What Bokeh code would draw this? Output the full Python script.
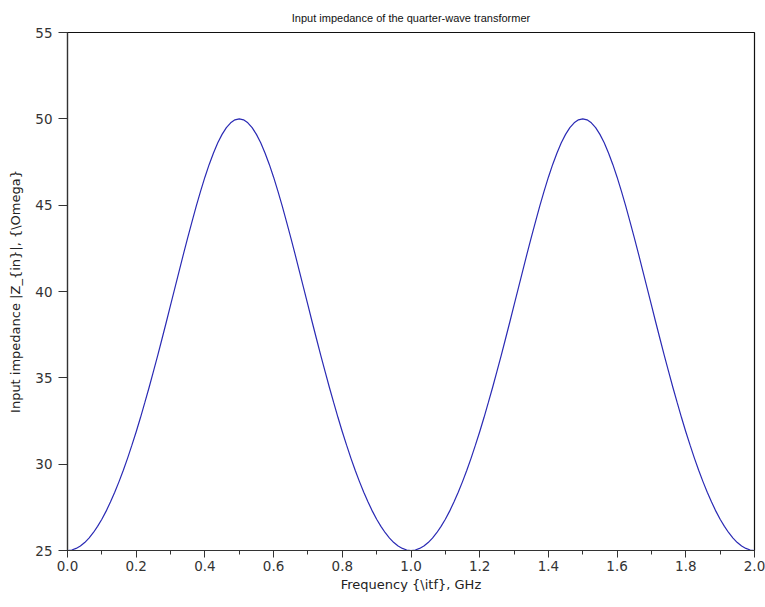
from bokeh.plotting import figure
from bokeh.embed import file_html
from bokeh.resources import INLINE
from bokeh.models import Range1d, FixedTicker

freq_ghz = [
    0.0, 0.0125, 0.025, 0.0375, 0.05, 0.0625, 0.075, 0.0875, 0.1, 0.1125,
    0.125, 0.1375, 0.15, 0.1625, 0.175, 0.1875, 0.2, 0.2125, 0.225, 0.2375,
    0.25, 0.2625, 0.275, 0.2875, 0.3, 0.3125, 0.325, 0.3375, 0.35, 0.3625,
    0.375, 0.3875, 0.4, 0.4125, 0.425, 0.4375, 0.45, 0.4625, 0.475, 0.4875,
    0.5, 0.5125, 0.525, 0.5375, 0.55, 0.5625, 0.575, 0.5875, 0.6, 0.6125,
    0.625, 0.6375, 0.65, 0.6625, 0.675, 0.6875, 0.7, 0.7125, 0.725, 0.7375,
    0.75, 0.7625, 0.775, 0.7875, 0.8, 0.8125, 0.825, 0.8375, 0.85, 0.8625,
    0.875, 0.8875, 0.9, 0.9125, 0.925, 0.9375, 0.95, 0.9625, 0.975, 0.9875,
    1.0, 1.0125, 1.025, 1.0375, 1.05, 1.0625, 1.075, 1.0875, 1.1, 1.1125,
    1.125, 1.1375, 1.15, 1.1625, 1.175, 1.1875, 1.2, 1.2125, 1.225, 1.2375,
    1.25, 1.2625, 1.275, 1.2875, 1.3, 1.3125, 1.325, 1.3375, 1.35, 1.3625,
    1.375, 1.3875, 1.4, 1.4125, 1.425, 1.4375, 1.45, 1.4625, 1.475, 1.4875,
    1.5, 1.5125, 1.525, 1.5375, 1.55, 1.5625, 1.575, 1.5875, 1.6, 1.6125,
    1.625, 1.6375, 1.65, 1.6625, 1.675, 1.6875, 1.7, 1.7125, 1.725, 1.7375,
    1.75, 1.7625, 1.775, 1.7875, 1.8, 1.8125, 1.825, 1.8375, 1.85, 1.8625,
    1.875, 1.8875, 1.9, 1.9125, 1.925, 1.9375, 1.95, 1.9625, 1.975, 1.9875,
    2.0]
z_in = [
    25.00, 25.03, 25.12, 25.26, 25.46, 25.72, 26.03, 26.40, 26.81, 27.28,
    27.81, 28.37, 28.99, 29.65, 30.35, 31.10, 31.88, 32.70, 33.56, 34.44,
    35.36, 36.29, 37.25, 38.22, 39.21, 40.19, 41.18, 42.16, 43.12, 44.05,
    44.96, 45.81, 46.62, 47.36, 48.02, 48.61, 49.10, 49.49, 49.77, 49.94,
    50.00, 49.94, 49.77, 49.49, 49.10, 48.61, 48.02, 47.36, 46.62, 45.81,
    44.96, 44.05, 43.12, 42.16, 41.18, 40.19, 39.21, 38.22, 37.25, 36.29,
    35.36, 34.44, 33.56, 32.70, 31.88, 31.10, 30.35, 29.65, 28.99, 28.37,
    27.81, 27.28, 26.81, 26.40, 26.03, 25.72, 25.46, 25.26, 25.12, 25.03,
    25.00, 25.03, 25.12, 25.26, 25.46, 25.72, 26.03, 26.40, 26.81, 27.28,
    27.81, 28.37, 28.99, 29.65, 30.35, 31.10, 31.88, 32.70, 33.56, 34.44,
    35.36, 36.29, 37.25, 38.22, 39.21, 40.19, 41.18, 42.16, 43.12, 44.05,
    44.96, 45.81, 46.62, 47.36, 48.02, 48.61, 49.10, 49.49, 49.77, 49.94,
    50.00, 49.94, 49.77, 49.49, 49.10, 48.61, 48.02, 47.36, 46.62, 45.81,
    44.96, 44.05, 43.12, 42.16, 41.18, 40.19, 39.21, 38.22, 37.25, 36.29,
    35.36, 34.44, 33.56, 32.70, 31.88, 31.10, 30.35, 29.65, 28.99, 28.37,
    27.81, 27.28, 26.81, 26.40, 26.03, 25.72, 25.46, 25.26, 25.12, 25.03,
    25.00]

x_ticks = [0.0, 0.2, 0.4, 0.6, 0.8, 1.0, 1.2, 1.4, 1.6, 1.8, 2.0]
x_minor = [0.1, 0.3, 0.5, 0.7, 0.9, 1.1, 1.3, 1.5, 1.7, 1.9]
y_ticks = [25, 30, 35, 40, 45, 50, 55]

title_text = "Input impedance of the quarter-wave transformer"
x_label = "Frequency {\\itf}, GHz"
y_label = "Input impedance |Z_{in}|, {\\Omega}"

TITLE_FONT = "Liberation Sans"
FONT = "DejaVu Sans"

p = figure(frame_width=687, frame_height=518, output_backend="svg",
           toolbar_location=None,
           x_range=Range1d(0.0, 2.0), y_range=Range1d(25, 55),
           min_border_left=67, min_border_right=11,
           min_border_top=32, min_border_bottom=57)

p.title.text = title_text
p.title.text_font = TITLE_FONT
p.title.text_font_size = "11px"
p.title.text_font_style = "normal"
p.title.align = "center"
p.title.text_color = "#111111"
p.title.standoff = 18

p.line(freq_ghz, z_in, line_color="#2a2ab4", line_width=1.2)

p.grid.visible = False
p.outline_line_color = "#111111"
p.outline_line_width = 1.2
p.background_fill_color = "white"
p.border_fill_color = "white"

xa = p.xaxis[0]
xa.ticker = FixedTicker(ticks=x_ticks, minor_ticks=x_minor)
xa.major_label_overrides = {t: f"{t:.1f}" for t in x_ticks}
xa.major_tick_in = 0
xa.major_tick_out = 7
xa.minor_tick_in = 0
xa.minor_tick_out = 4
xa.axis_label = x_label

ya = p.yaxis[0]
ya.ticker = FixedTicker(ticks=y_ticks, minor_ticks=[])
ya.major_tick_in = 0
ya.major_tick_out = 9
ya.minor_tick_out = 0
ya.axis_label = y_label

for ax in (xa, ya):
    ax.axis_line_color = "#333333"
    ax.axis_line_width = 1.2
    ax.major_tick_line_color = "#333333"
    ax.minor_tick_line_color = "#333333"
    ax.major_label_text_font = FONT
    ax.major_label_text_font_size = "13.5px"
    ax.major_label_text_color = "#333333"
    ax.axis_label_text_font = FONT
    ax.axis_label_text_font_size = "13px"
    ax.axis_label_text_font_style = "normal"
    ax.axis_label_text_color = "#222222"

xa.major_label_standoff = 3
xa.axis_label_standoff = 3
ya.major_label_standoff = 6
ya.axis_label_standoff = 9

open("out.html", "w").write(file_html(p, INLINE))
